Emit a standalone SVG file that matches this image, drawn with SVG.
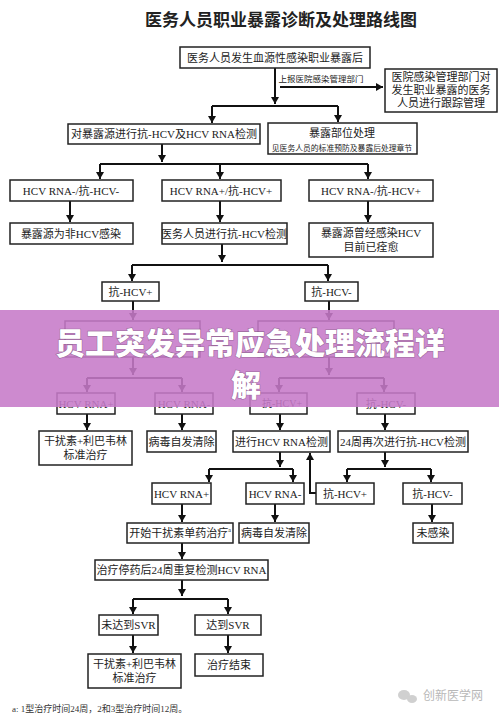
<svg xmlns="http://www.w3.org/2000/svg" width="499" height="719" viewBox="0 0 499 719">
<defs>
<marker id="ah" markerUnits="userSpaceOnUse" markerWidth="8" markerHeight="8" refX="7" refY="4" orient="auto">
<path d="M0,0 L7,4 L0,8 z" fill="#111"/>
</marker>
<style>
.b{fill:#fff;stroke:#222;stroke-width:1.5}
.t{font-family:"Liberation Serif","Noto Sans CJK SC",serif;font-size:11px;fill:#222;text-anchor:middle;dominant-baseline:central}
.s{font-size:8px}
.c{fill:none;stroke:#111;stroke-width:2}
.a{marker-end:url(#ah)}
</style>
</defs>
<rect width="499" height="719" fill="#fff"/>
<text x="281" y="20" style="font-family:'Liberation Serif','Noto Sans CJK SC',serif;font-size:17px;font-weight:bold;fill:#222;text-anchor:middle;dominant-baseline:central">医务人员职业暴露诊断及处理路线图</text>

<g id="connectors">
<path class="c a" d="M275,68 V104"/>
<path class="c a" d="M280,87 H383"/>
<path class="c" d="M212,106 H338"/>
<path class="c a" d="M212,106 V123"/>
<path class="c a" d="M338,106 V122"/>
<path class="c a" d="M162,144 V162"/>
<path class="c" d="M100,164 H368"/>
<path class="c a" d="M100,164 V179"/>
<path class="c a" d="M220,164 V179"/>
<path class="c a" d="M368,164 V179"/>
<path class="c a" d="M70,201 V222"/>
<path class="c a" d="M220,201 V222"/>
<path class="c a" d="M368,201 V222"/>
<path class="c a" d="M222,244 V262"/>
<path class="c" d="M132,265 H328"/>
<path class="c a" d="M132,265 V281"/>
<path class="c a" d="M328,265 V281"/>
<path class="c a" d="M133,301 V320"/>
<path class="c a" d="M329,301 V320"/>
<path class="c a" d="M133,357 V375"/>
<path class="c" d="M87,378 H182"/>
<path class="c a" d="M87,378 V392"/>
<path class="c a" d="M182,378 V392"/>
<path class="c a" d="M329,357 V375"/>
<path class="c" d="M279,378 H384"/>
<path class="c a" d="M279,378 V392"/>
<path class="c a" d="M384,378 V392"/>
<path class="c a" d="M87,414 V430"/>
<path class="c a" d="M182,414 V430"/>
<path class="c a" d="M280,414 V430"/>
<path class="c a" d="M385,414 V430"/>
<path class="c a" d="M280,452 V467"/>
<path class="c" d="M209,469 H293"/>
<path class="c a" d="M209,469 V482"/>
<path class="c a" d="M293,469 V482"/>
<path class="c a" d="M385,452 V467"/>
<path class="c" d="M347,469 H431"/>
<path class="c a" d="M347,469 V482"/>
<path class="c a" d="M431,469 V482"/>
<path class="c a" d="M316,493 H310 V453"/>
<path class="c a" d="M182,504 V522"/>
<path class="c a" d="M275,504 V522"/>
<path class="c a" d="M432,504 V522"/>
<path class="c a" d="M182,543 V559"/>
<path class="c a" d="M182,580 V596"/>
<path class="c" d="M133,599 H228"/>
<path class="c a" d="M133,599 V614"/>
<path class="c a" d="M228,599 V614"/>
<path class="c a" d="M133,635 V653"/>
<path class="c a" d="M228,635 V653"/>
</g>
<text class="t s" x="321" y="79" style="font-size:8.5px">上报医院感染管理部门</text>

<g id="n1"><rect class="b" x="180" y="47" width="190" height="21"/><text class="t" x="275" y="57.5">医务人员发生血源性感染职业暴露后</text></g>
<g id="n2"><rect class="b" x="385" y="69" width="112" height="43"/><text class="t" x="441" y="77">医院感染管理部门对</text><text class="t" x="441" y="90">发生职业暴露的医务</text><text class="t" x="441" y="103">人员进行跟踪管理</text></g>
<g id="n3"><rect class="b" x="68" y="124" width="192" height="20"/><text class="t" x="164" y="134">对暴露源进行抗-HCV及HCV RNA检测</text></g>
<g id="n4"><rect class="b" x="268" y="123" width="149" height="31"/><text class="t" x="342" y="133">暴露部位处理</text><text class="t" x="342" y="148" style="font-size:7.8px">见医务人员的标准预防及暴露后处理章节</text></g>
<g id="n5"><rect class="b" x="10" y="180" width="123" height="21"/><text class="t" x="71" y="190.5">HCV RNA-/抗-HCV-</text></g>
<g id="n6"><rect class="b" x="162" y="180" width="119" height="21"/><text class="t" x="221" y="190.5">HCV RNA+/抗-HCV+</text></g>
<g id="n7"><rect class="b" x="309" y="180" width="124" height="21"/><text class="t" x="371" y="190.5">HCV RNA-/抗-HCV+</text></g>
<g id="n8"><rect class="b" x="10" y="223" width="123" height="21"/><text class="t" x="71" y="233.5">暴露源为非HCV感染</text></g>
<g id="n9"><rect class="b" x="162" y="223" width="125" height="21"/><text class="t" x="224" y="233.5">医务人员进行抗-HCV检测</text></g>
<g id="n10"><rect class="b" x="309" y="223" width="124" height="34"/><text class="t" x="371" y="233">暴露源曾经感染HCV</text><text class="t" x="371" y="247">目前已痊愈</text></g>
<g id="n11"><rect class="b" x="102" y="282" width="57" height="19"/><text class="t" x="130.5" y="291.5">抗-HCV+</text></g>
<g id="n12"><rect class="b" x="305" y="282" width="53" height="19"/><text class="t" x="331.5" y="291.5">抗-HCV-</text></g>
<g id="n13"><rect class="b" x="65" y="321" width="135" height="36"/></g>
<g id="n14"><rect class="b" x="258" y="321" width="136" height="36"/></g>
<g id="n15"><rect class="b" x="57" y="393" width="58" height="21"/><text class="t" x="86" y="403.5">HCV RNA+</text></g>
<g id="n16"><rect class="b" x="155" y="393" width="58" height="21"/><text class="t" x="184" y="403.5">HCV RNA-</text></g>
<g id="n17"><rect class="b" x="250" y="393" width="57" height="21"/><text class="t" x="282" y="403.5" style="font-size:10px">抗-HCV+</text></g>
<g id="n18"><rect class="b" x="357" y="393" width="58" height="21"/><text class="t" x="386" y="403.5">抗-HCV-</text></g>

<rect x="0" y="310" width="499" height="97" fill="#c67ac8" opacity="0.88"/>
<g style="font-family:'Noto Sans CJK SC',sans-serif;font-size:30px;font-weight:900;fill:#fff;text-anchor:middle;stroke:#6a4a6a;stroke-width:1.2;stroke-opacity:0.5;paint-order:stroke">
<text x="250" y="354">员工突发异常应急处理流程详</text>
<text x="246" y="396">解</text>
</g>

<g id="n19"><rect class="b" x="39" y="431" width="93" height="34"/><text class="t" x="85.5" y="441">干扰素+利巴韦林</text><text class="t" x="85.5" y="455">标准治疗</text></g>
<g id="n20"><rect class="b" x="147" y="431" width="69" height="21"/><text class="t" x="181.5" y="441.5">病毒自发清除</text></g>
<g id="n21"><rect class="b" x="233" y="431" width="97" height="21"/><text class="t" x="281.5" y="441.5">进行HCV RNA检测</text></g>
<g id="n22"><rect class="b" x="338" y="431" width="130" height="21"/><text class="t" x="403" y="441.5">24周再次进行抗-HCV检测</text></g>
<g id="n23"><rect class="b" x="152" y="483" width="59" height="21"/><text class="t" x="181.5" y="493.5">HCV RNA+</text></g>
<g id="n24"><rect class="b" x="246" y="483" width="58" height="21"/><text class="t" x="275" y="493.5">HCV RNA-</text></g>
<g id="n25"><rect class="b" x="316" y="483" width="58" height="21"/><text class="t" x="345" y="493.5">抗-HCV+</text></g>
<g id="n26"><rect class="b" x="403" y="483" width="59" height="21"/><text class="t" x="432.5" y="493.5">抗-HCV-</text></g>
<g id="n27"><rect class="b" x="127" y="523" width="106" height="20"/><text class="t" x="180" y="533">开始干扰素单药治疗<tspan style="font-size:6px" dy="-3">a</tspan></text></g>
<g id="n28"><rect class="b" x="239" y="523" width="70" height="20"/><text class="t" x="274" y="533">病毒自发清除</text></g>
<g id="n29"><rect class="b" x="413" y="523" width="40" height="20"/><text class="t" x="433" y="533">未感染</text></g>
<g id="n30"><rect class="b" x="95" y="560" width="173" height="20"/><text class="t" x="181.5" y="570">治疗停药后24周重复检测HCV RNA</text></g>
<g id="n31"><rect class="b" x="99" y="615" width="59" height="20"/><text class="t" x="128.5" y="625">未达到SVR</text></g>
<g id="n32"><rect class="b" x="195" y="615" width="66" height="20"/><text class="t" x="228" y="625">达到SVR</text></g>
<g id="n33"><rect class="b" x="88" y="654" width="93" height="34"/><text class="t" x="134.5" y="664">干扰素+利巴韦林</text><text class="t" x="134.5" y="678">标准治疗</text></g>
<g id="n34"><rect class="b" x="195" y="654" width="68" height="22"/><text class="t" x="229" y="665">治疗结束</text></g>

<text x="12" y="712" style="font-family:'Liberation Serif','Noto Sans CJK SC',serif;font-size:9px;fill:#333">a: 1型治疗时间24周，2和3型治疗时间12周。</text>
<g fill="#d0d0d0">
<ellipse cx="404" cy="695" rx="6" ry="5"/>
<ellipse cx="412" cy="699" rx="5" ry="4"/>
</g>
<text x="423" y="700" style="font-family:'Noto Sans CJK SC',sans-serif;font-size:12px;fill:#b8b8b8">创新医学网</text>
</svg>
